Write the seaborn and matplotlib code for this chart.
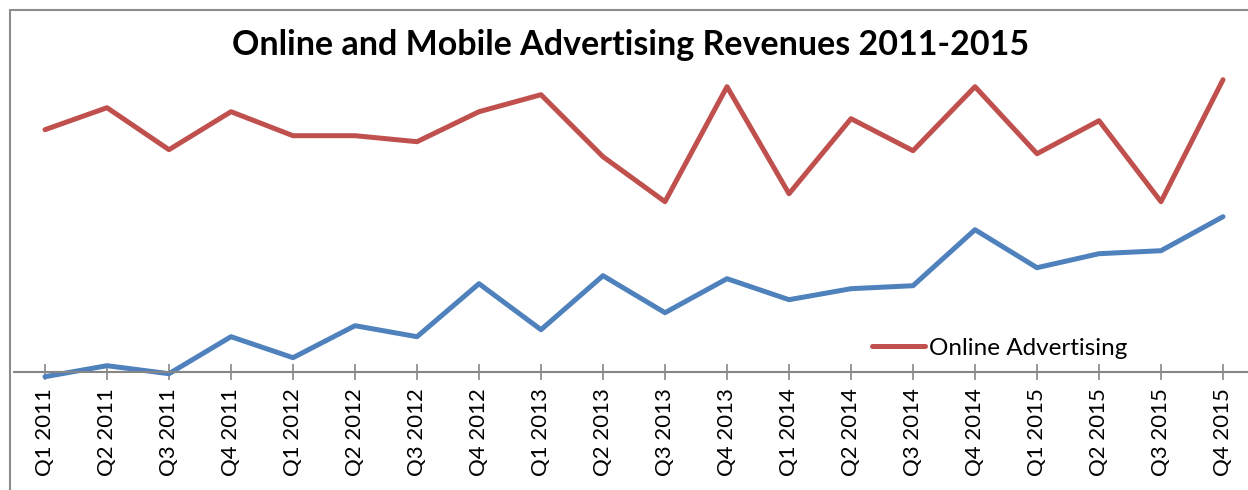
import pandas as pd
import seaborn as sns
import matplotlib.pyplot as plt
from matplotlib.lines import Line2D
from matplotlib.patches import Rectangle

quarters = ['Q1 2011', 'Q2 2011', 'Q3 2011', 'Q4 2011',
            'Q1 2012', 'Q2 2012', 'Q3 2012', 'Q4 2012',
            'Q1 2013', 'Q2 2013', 'Q3 2013', 'Q4 2013',
            'Q1 2014', 'Q2 2014', 'Q3 2014', 'Q4 2014',
            'Q1 2015', 'Q2 2015', 'Q3 2015', 'Q4 2015']
online = [24.2, 26.4, 22.2, 26.0, 23.6, 23.6, 23.0, 26.0, 27.7, 21.5,
          17.0, 28.5, 17.8, 25.3, 22.1, 28.5, 21.8, 25.1, 17.0, 29.2]
mobile = [-0.5, 0.6, -0.2, 3.5, 1.4, 4.6, 3.5, 8.8, 4.2, 9.6,
          5.9, 9.3, 7.2, 8.3, 8.6, 14.2, 10.4, 11.8, 12.1, 15.5]

red = '#C0504D'
blue = '#4F81BD'
grey = '#868686'

sns.set_theme(style='white')
plt.rcParams['font.family'] = ['Lato', 'DejaVu Sans']
plt.rcParams['text.color'] = 'black'

df = pd.DataFrame({'pos': range(len(quarters)),
                   'Online Advertising': online,
                   'Mobile Advertising': mobile})
df = df.melt(id_vars='pos', var_name='series', value_name='revenue')

W, H = 1248, 490
fig = plt.figure(figsize=(W / 100, H / 100), dpi=100)
ax = fig.add_axes([14 / W, 1 - 392 / H, 1240 / W, 340 / H])

sns.lineplot(data=df, x='pos', y='revenue', hue='series',
             palette={'Online Advertising': red, 'Mobile Advertising': blue},
             linewidth=3.6, legend=False, ax=ax)

ax.set_xlim(-0.5, 19.5)
ax.set_ylim(-2.03, 31.97)
for s in ['left', 'top', 'right']:
    ax.spines[s].set_visible(False)
ax.spines['bottom'].set_position(('data', 0))
ax.spines['bottom'].set_color(grey)
ax.spines['bottom'].set_linewidth(1.5)
ax.set_yticks([])
ax.set_xticks(range(len(quarters)))
ax.set_xticklabels(quarters, rotation=90, fontsize=16, color='black')
ax.tick_params(axis='x', direction='inout', length=12, width=1.2,
               color=grey, pad=6, bottom=True)
ax.set_xlabel('')
ax.set_ylabel('')
ax.patch.set_alpha(0)

fig.patches.append(Rectangle((10 / W, -0.2), 2, 1 - 10 / H + 0.2,
                             transform=fig.transFigure, fill=False,
                             edgecolor='#8c8c8c', linewidth=1.5))

fig.text(631 / W, 1 - 45 / H, 'Online and Mobile Advertising Revenues 2011-2015',
         ha='center', va='center', fontsize=24.5, fontweight='bold',
         color='black')

handle = Line2D([], [], color=red, linewidth=3.6, solid_capstyle='round')
fig.legend([handle], ['Online Advertising'], loc='center left',
           bbox_to_anchor=(872 / W, 1 - 348 / H), frameon=False,
           fontsize=17.5, handlelength=2.2, handletextpad=0.15,
           borderpad=0, borderaxespad=0, labelcolor='black')

fig.savefig('out.png', dpi=100)
